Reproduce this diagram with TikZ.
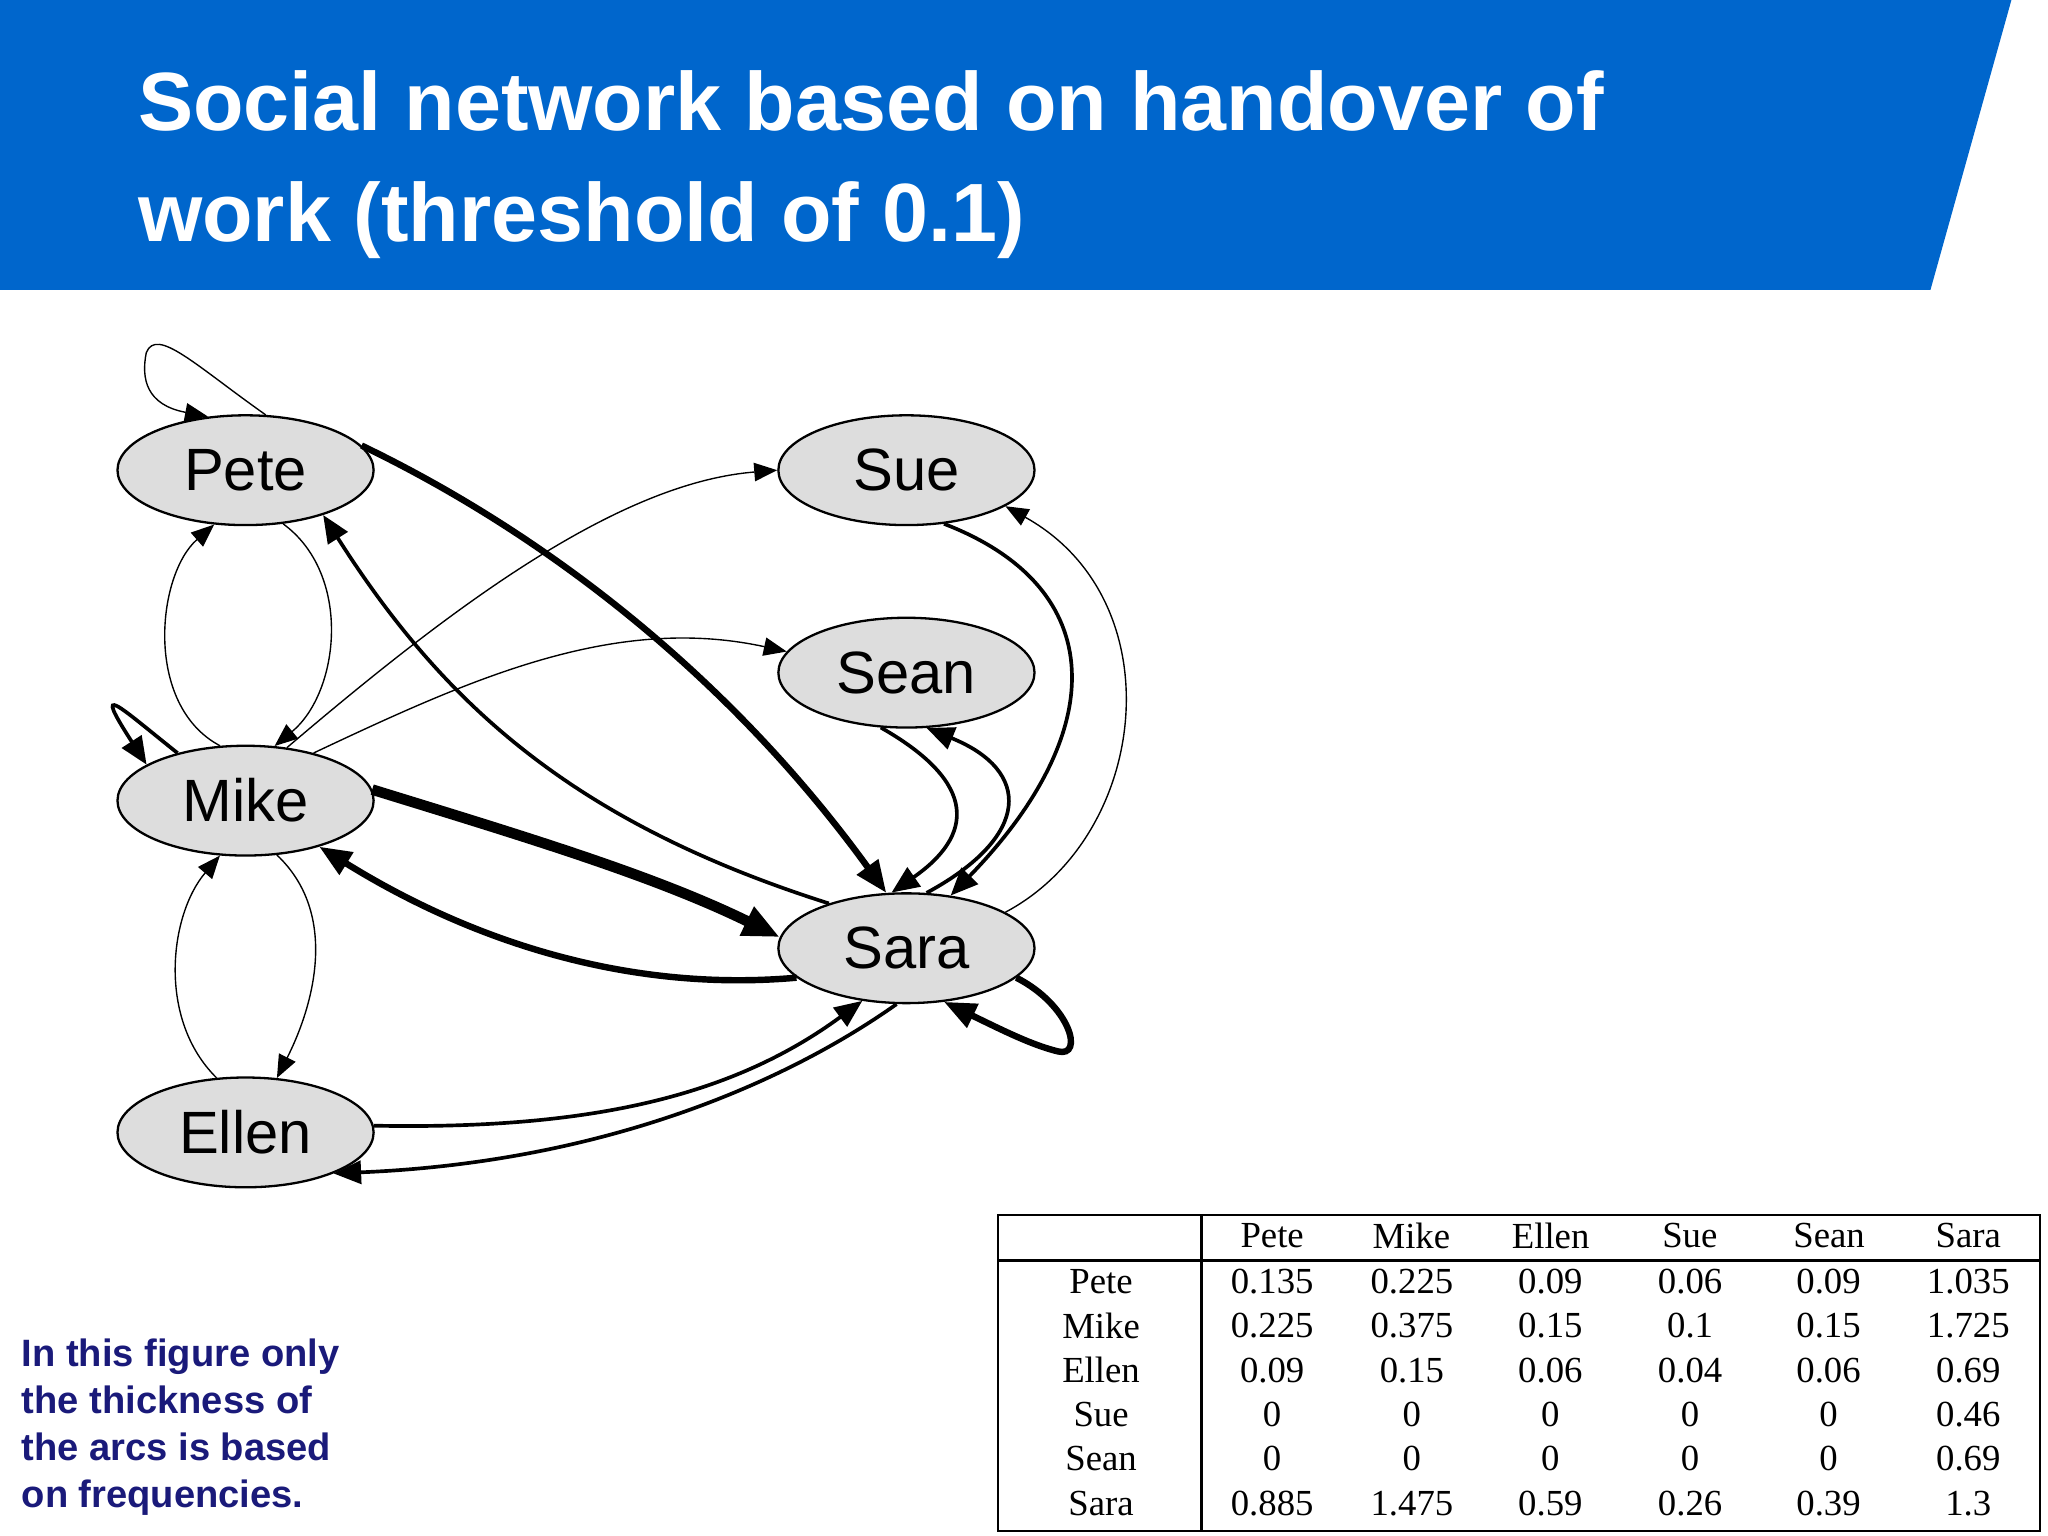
\documentclass[tikz,border=0pt]{standalone}
\usepackage{fontspec}
\setmainfont{Liberation Sans}
\newfontfamily\tabfont{Liberation Serif}
\usetikzlibrary{arrows.meta,shapes.geometric}
\definecolor{hdr}{HTML}{0066CC}
\definecolor{navy}{HTML}{1A1A7A}
\definecolor{ngray}{HTML}{DDDDDD}
\begin{document}
\begin{tikzpicture}[x=0.01cm,y=-0.01cm,
  person/.style={ellipse,draw,line width=0.5pt,fill=ngray,minimum width=1.96cm,minimum height=0.84cm,inner sep=0pt,font=\fontsize{13}{15}\selectfont},
  ethin/.style={line width=0.3pt,-{Triangle[length=5pt,width=4pt]}},
  emed/.style={line width=0.8pt,-{Triangle[length=6pt,width=5pt]}},
  ethick/.style={line width=1.4pt,-{Triangle[length=7pt,width=5.5pt]}},
  evthick/.style={line width=2.3pt,-{Triangle[length=8pt,width=6.5pt]}},
  cell/.style={font=\tabfont\fontsize{8}{9}\selectfont,anchor=center,inner sep=0pt}]
\useasboundingbox (0,0) rectangle (1568,1176);
\fill[white] (0,0) rectangle (1568,1176);
\fill[hdr] (0,0) -- (1540,0) -- (1478,222) -- (0,222) -- cycle;
\node[anchor=base west,text=white,font=\bfseries\fontsize{18}{24}\selectfont,inner sep=0pt] (t1) at (105,100) {Social network based on handover of};
\node[anchor=base west,text=white,font=\bfseries\fontsize{18}{24}\selectfont,inner sep=0pt] (t2) at (105,185) {work (threshold of 0.1)};

\node[person] (Pete) at (188,360) {Pete};
\node[person] (Sue) at (694,360) {Sue};
\node[person] (Sean) at (694,515) {Sean};
\node[person] (Mike) at (188,613) {Mike};
\node[person] (Sara) at (694,726) {Sara};
\node[person] (Ellen) at (188,867) {Ellen};

% Pete
\draw[ethin] (Pete.70) .. controls (150,280) and (120,250) .. (112,270) .. controls (108,290) and (112,310) .. (Pete.125);
\draw[ethick] (Pete.12) .. controls (420,410) and (560,520) .. (Sara.110);
\draw[emed] (Sara.150) .. controls (440,630) and (340,540) .. (Pete.-30);
\draw[ethin] (Pete.-55) .. controls (270,440) and (260,530) .. (Mike.62);
\draw[ethin] (Mike.115) .. controls (110,540) and (120,440) .. (Pete.-120);
% Mike
\draw[ethin] (Mike.52) .. controls (340,470) and (470,370) .. (Sue.180);
\draw[ethin] (Mike.35) .. controls (360,520) and (470,470) .. (Sean.170);
\draw[evthick] (Mike.5) .. controls (400,640) and (500,670) .. (Sara.175);
\draw[ethick] (Sara.195) .. controls (480,760) and (360,720) .. (Mike.-32);
\draw[emed] (Mike.145) .. controls (90,540) and (70,520) .. (Mike.160);
\draw[ethin] (Mike.-60) .. controls (260,700) and (240,770) .. (Ellen.60);
\draw[ethin] (Ellen.118) .. controls (120,780) and (130,700) .. (Mike.-115);
% Ellen
\draw[emed] (Ellen.3) .. controls (450,865) and (560,840) .. (Sara.-130);
\draw[emed] (Sara.-100) .. controls (600,830) and (460,890) .. (Ellen.-25);
% Sue / Sean
\draw[emed] (Sue.-55) .. controls (850,450) and (850,560) .. (Sara.50);
\draw[ethin] (Sara.20) .. controls (880,640) and (900,460) .. (Sue.-20);
\draw[emed] (Sean.-115) .. controls (750,600) and (745,640) .. (Sara.105);
\draw[emed] (Sara.70) .. controls (790,640) and (790,590) .. (Sean.-70);
\draw[ethick] (Sara.-15) .. controls (820,770) and (830,810) .. (810,805) .. controls (790,800) and (770,790) .. (Sara.-55);

% text
\node[anchor=north west,align=left,text=navy,font=\bfseries\fontsize{8.3}{10.3}\selectfont,inner sep=0pt] (note) at (16,1024) {In this figure only\\the thickness of\\the arcs is based\\on frequencies.};

% table
\draw[line width=0.5pt] (764,930) rectangle (1562,1172);
\draw[line width=0.5pt] (764,965) -- (1562,965);
\draw[line width=0.5pt] (920,930) -- (920,1172);
\foreach \n [count=\i] in {Pete,Mike,Ellen,Sue,Sean,Sara}{
  \node[cell] (h\i) at ({974+106.6*(\i-1)},946) {\n};
}
\foreach \rn/\a/\b/\c/\d/\e/\f [count=\j] in {
 Pete/0.135/0.225/0.09/0.06/0.09/1.035,
 Mike/0.225/0.375/0.15/0.1/0.15/1.725,
 Ellen/0.09/0.15/0.06/0.04/0.06/0.69,
 Sue/0/0/0/0/0/0.46,
 Sean/0/0/0/0/0/0.69,
 Sara/0.885/1.475/0.59/0.26/0.39/1.3}{
  \node[cell] (r\j) at (843,{981+34*(\j-1)}) {\rn};
  \node[cell] (c\j a) at (974,{981+34*(\j-1)}) {\a};
  \node[cell] (c\j b) at (1081,{981+34*(\j-1)}) {\b};
  \node[cell] (c\j c) at (1187,{981+34*(\j-1)}) {\c};
  \node[cell] (c\j d) at (1294,{981+34*(\j-1)}) {\d};
  \node[cell] (c\j e) at (1400,{981+34*(\j-1)}) {\e};
  \node[cell] (c\j f) at (1507,{981+34*(\j-1)}) {\f};
}
\end{tikzpicture}
\end{document}
